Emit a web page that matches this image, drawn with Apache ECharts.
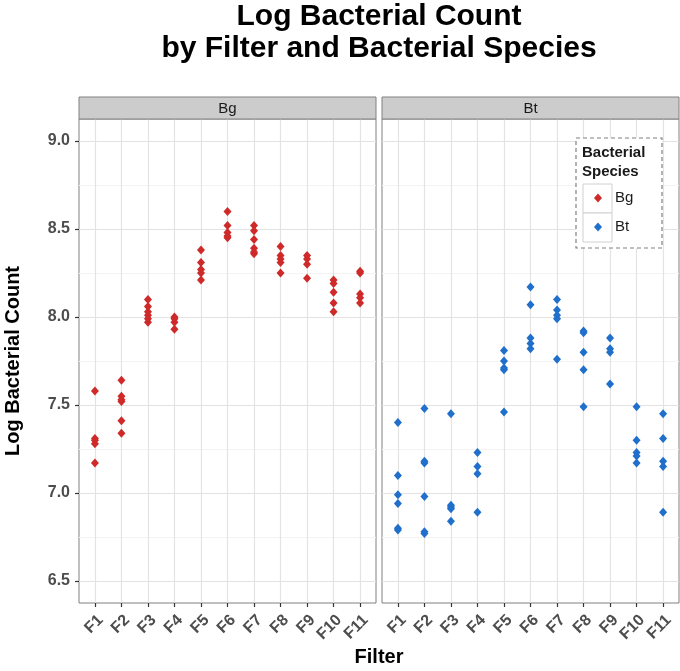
<!DOCTYPE html>
<html>
<head>
<meta charset="utf-8">
<script src="https://cdn.jsdelivr.net/npm/echarts@6/dist/echarts.min.js"></script>
<style>html,body{margin:0;padding:0;background:#fff}#c{width:680px;height:671px}</style>
</head>
<body>
<div id="c"></div>
<script>
// ---- data ----
const filters = ['F1','F2','F3','F4','F5','F6','F7','F8','F9','F10','F11'];
const species = ['Bg','Bt'];
const yTicks = [6.5, 7.0, 7.5, 8.0, 8.5, 9.0];
// replicate values per filter (Bg)
const bgValues = [
  [7.58, 7.31, 7.30, 7.28, 7.17],
  [7.64, 7.55, 7.53, 7.52, 7.41, 7.34],
  [8.10, 8.06, 8.03, 8.01, 7.99, 7.97],
  [8.00, 7.99, 7.97, 7.93],
  [8.38, 8.31, 8.27, 8.25, 8.21],
  [8.60, 8.52, 8.48, 8.46, 8.45],
  [8.52, 8.49, 8.44, 8.39, 8.37, 8.36],
  [8.40, 8.35, 8.33, 8.31, 8.25],
  [8.35, 8.33, 8.30, 8.22],
  [8.21, 8.19, 8.14, 8.08, 8.03],
  [8.26, 8.25, 8.13, 8.11, 8.08]
];
// replicate values per filter (Bt)
const btValues = [
  [7.40, 7.10, 6.99, 6.94, 6.80, 6.79],
  [7.48, 7.18, 7.17, 6.98, 6.78, 6.77],
  [7.45, 6.93, 6.92, 6.91, 6.84],
  [7.23, 7.15, 7.11, 6.89],
  [7.81, 7.75, 7.71, 7.70, 7.46],
  [8.17, 8.07, 7.88, 7.85, 7.82],
  [8.10, 8.04, 8.01, 7.99, 7.76],
  [7.92, 7.91, 7.80, 7.70, 7.49],
  [7.88, 7.82, 7.80, 7.62],
  [7.49, 7.30, 7.23, 7.21, 7.17],
  [7.45, 7.31, 7.18, 7.15, 6.89]
];
const colors = ['#cf2a2a', '#1f6fcb'];

// ---- build ----
function toPoints(vals) {
  const pts = [];
  vals.forEach((arr, i) => arr.forEach(v => pts.push([i, v])));
  return pts;
}
const idx = filters.map((f, i) => i);
const FONT = 'Liberation Sans, Arial, sans-serif';
const stripTop = 97, gridTop = 119, gridH = 484, gridW = 297;
const grids = [
  {left: 79, top: gridTop, width: gridW, height: gridH},
  {left: 382, top: gridTop, width: gridW, height: gridH}
].map(g => Object.assign(g, {show: true, backgroundColor: '#fff', borderColor: '#808080', borderWidth: 1, containLabel: false}));

const xAxes = [0, 1].map(gi => ({
  type: 'value', gridIndex: gi, min: -0.6, max: filters.length - 1 + 0.6,
  axisLine: {show: false, onZero: false},
  axisTick: {show: true, customValues: idx, length: 4, lineStyle: {color: '#333', width: 1.2}},
  axisLabel: {customValues: idx, formatter: v => filters[Math.round(v)], rotate: 45, margin: 9,
    align: 'right', verticalAlign: 'top',
    color: '#4d4d4d', fontWeight: 'bold', fontSize: 16, fontFamily: FONT},
  splitLine: {show: true, lineStyle: {color: '#e3e3e3', width: 1.2}}
}));
const yAxes = [0, 1].map(gi => ({
  type: 'value', gridIndex: gi, min: 6.375, max: 9.125,
  name: gi === 0 ? 'Log Bacterial Count' : '', nameLocation: 'middle', nameGap: 56,
  nameTextStyle: {fontWeight: 'bold', fontSize: 20, color: '#000', fontFamily: FONT},
  axisLine: {show: false, onZero: false},
  axisTick: {show: gi === 0, customValues: yTicks, length: 4, lineStyle: {color: '#333', width: 1.2}},
  axisLabel: {show: gi === 0, customValues: yTicks, formatter: v => v.toFixed(1), margin: 9,
    color: '#4d4d4d', fontWeight: 'bold', fontSize: 16, fontFamily: FONT},
  splitLine: {show: true, lineStyle: {color: '#e3e3e3', width: 1.2}},
  minorTick: {show: false, splitNumber: 2},
  minorSplitLine: {show: true, lineStyle: {color: '#f3f3f3', width: 1}}
}));

const series = species.map((s, k) => ({
  name: s, type: 'scatter', xAxisIndex: k, yAxisIndex: k,
  symbol: 'diamond', symbolSize: [8, 9],
  itemStyle: {color: colors[k], opacity: 1},
  data: toPoints(k === 0 ? bgValues : btValues)
}));

const graphics = [];
// strips
grids.forEach((g, k) => {
  graphics.push({type: 'rect', shape: {x: g.left, y: stripTop, width: gridW, height: gridTop - stripTop},
    style: {fill: '#cccccc', stroke: '#808080', lineWidth: 1}, z: 10});
  graphics.push({type: 'text', x: g.left + gridW / 2, y: (stripTop + gridTop) / 2 + 1,
    style: {text: species[k], font: '15px ' + FONT, fill: '#1a1a1a', align: 'center', verticalAlign: 'middle'}, z: 11});
});
// legend frame, title, key boxes
graphics.push({type: 'rect', shape: {x: 576, y: 138, width: 86, height: 110},
  style: {fill: '#fff', stroke: '#808080', lineWidth: 1.2, lineDash: [4, 3]}, z: 5});
graphics.push({type: 'text', x: 582, y: 143,
  style: {text: 'Bacterial\nSpecies', font: 'bold 15px ' + FONT, lineHeight: 19, fill: '#1a1a1a'}, z: 6});
[0, 1].forEach(k => graphics.push({type: 'rect', shape: {x: 583, y: 184 + 29 * k, width: 29, height: 29},
  style: {fill: '#fff', stroke: '#d0d0d0', lineWidth: 1}, z: 6}));

const option = {
  animation: false,
  backgroundColor: '#fff',
  title: [
    {text: 'Log Bacterial Count\nby Filter and Bacterial Species', left: 379, top: 1, padding: 0, textAlign: 'center',
      textStyle: {fontSize: 30, fontWeight: 'bold', color: '#000', fontFamily: FONT, lineHeight: 32}},
    {text: 'Filter', left: 379, top: 647, padding: 0, textAlign: 'center',
      textStyle: {fontSize: 20, fontWeight: 'bold', color: '#000', fontFamily: FONT}}
  ],
  legend: {data: species, orient: 'vertical', left: 594, top: 190, padding: 0, itemGap: 13,
    itemWidth: 8, itemHeight: 9, icon: 'diamond', selectedMode: false, z: 20,
    textStyle: {fontSize: 15, color: '#1a1a1a', fontFamily: FONT, lineHeight: 16, padding: [0, 0, 0, 8]}},
  grid: grids, xAxis: xAxes, yAxis: yAxes, series: series, graphic: graphics
};
echarts.init(document.getElementById('c'), null, {renderer: 'canvas'}).setOption(option);
</script>
</body>
</html>
